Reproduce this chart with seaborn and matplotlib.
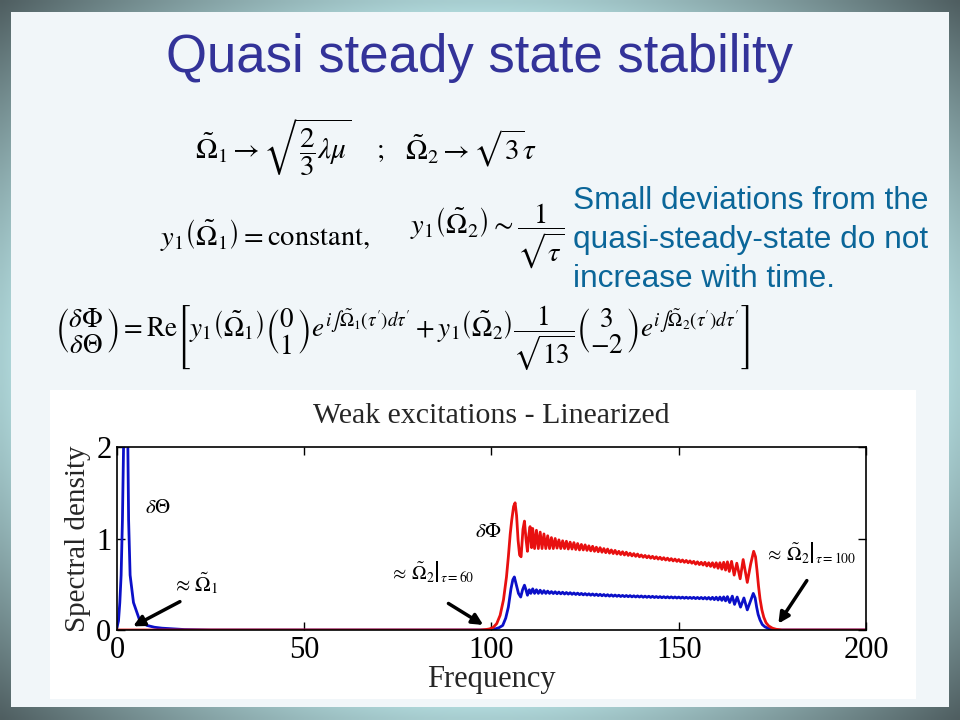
import numpy as np
import pandas as pd
import matplotlib
matplotlib.use("Agg")
import matplotlib.pyplot as plt
import seaborn as sns
from matplotlib.patches import Rectangle

# ---------------- data ----------------
theta_spike_freq = [0, 0.4, 0.75, 1.1, 1.45, 1.75, 2.05, 2.35, 2.65, 2.9, 3.1, 3.5, 4.4, 6.1,
                    8.0, 10.0, 12.0, 15.0, 18.0, 25.0]
theta_spike_val = [0.03, 0.1, 0.3, 0.6, 1.2, 2.0, 3.0, 3.6, 3.0, 2.0, 1.2, 0.6, 0.3, 0.1,
                   0.05, 0.03, 0.02, 0.012, 0.005, 0.0]

theta_rise_freq = [98.0, 100.0, 101.0, 102.0, 103.0, 103.8, 104.5, 105.2, 105.7, 106.1, 106.6,
                   107.2, 107.8, 108.3, 108.8, 109.2, 109.6, 110.1, 110.5]
theta_rise_val = [0.0, 0.005, 0.012, 0.025, 0.05, 0.13, 0.25, 0.45, 0.55, 0.58, 0.5,
                  0.40, 0.36, 0.44, 0.49, 0.44, 0.38, 0.44, 0.40]

phi_rise_freq = [0.0, 97.0, 98.5, 99.5, 100.5, 101.4, 102.3, 103.2, 104.0, 104.5, 105.0, 105.4,
                 105.9, 106.3, 106.7, 107.1, 107.5, 107.9, 108.4, 108.8, 109.2, 109.6, 110.0,
                 110.3, 110.7]
phi_rise_val = [0.0, 0.0, 0.005, 0.012, 0.03, 0.07, 0.16, 0.33, 0.58, 0.8, 1.05, 1.2,
                1.35, 1.39, 1.25, 0.98, 0.82, 0.80, 1.1, 1.19, 1.0, 0.86, 1.05,
                1.13, 0.9]

band_freq = [111.0, 111.5, 112.0, 112.5, 113.0, 113.5, 114.0, 114.5, 115.0, 115.5,
             116.0, 116.5, 117.0, 117.5, 118.0, 118.5, 119.0, 119.5, 120.0, 120.5,
             121.0, 121.5, 122.0, 122.5, 123.0, 123.5, 124.0, 124.5, 125.0, 125.5,
             126.0, 126.5, 127.0, 127.5, 128.0, 128.5, 129.0, 129.5, 130.0, 130.5,
             131.0, 131.5, 132.0, 132.5, 133.0, 133.5, 134.0, 134.5, 135.0, 135.5,
             136.0, 136.5, 137.0, 137.5, 138.0, 138.5, 139.0, 139.5, 140.0, 140.5,
             141.0, 141.5, 142.0, 142.5, 143.0, 143.5, 144.0, 144.5, 145.0, 145.5,
             146.0, 146.5, 147.0, 147.5, 148.0, 148.5, 149.0, 149.5, 150.0, 150.5,
             151.0, 151.5, 152.0, 152.5, 153.0, 153.5, 154.0, 154.5, 155.0, 155.5,
             156.0, 156.5, 157.0, 157.5, 158.0, 158.5, 159.0, 159.5, 160.0, 160.5,
             161.0, 161.5, 162.0, 162.5, 163.0]

phi_band_val = [1.11, 0.89, 1.09, 0.89, 1.07, 0.89, 1.05, 0.89, 1.03, 0.89,
                1.01, 0.89, 1.00, 0.895, 0.985, 0.89, 0.975, 0.89, 0.97, 0.885,
                0.96, 0.885, 0.955, 0.88, 0.945, 0.875, 0.935, 0.875, 0.93, 0.87,
                0.92, 0.865, 0.915, 0.86, 0.905, 0.855, 0.90, 0.85, 0.89, 0.845,
                0.885, 0.84, 0.875, 0.835, 0.87, 0.83, 0.86, 0.825, 0.855, 0.82,
                0.85, 0.815, 0.84, 0.81, 0.835, 0.805, 0.83, 0.80, 0.82, 0.795,
                0.815, 0.79, 0.81, 0.785, 0.805, 0.78, 0.80, 0.775, 0.795, 0.77,
                0.79, 0.765, 0.785, 0.76, 0.78, 0.755, 0.775, 0.75, 0.77, 0.745,
                0.765, 0.74, 0.76, 0.735, 0.755, 0.73, 0.75, 0.72, 0.745, 0.715,
                0.74, 0.71, 0.74, 0.70, 0.735, 0.695, 0.735, 0.685, 0.735, 0.675,
                0.735, 0.665, 0.74, 0.655, 0.745]

theta_band_val = [0.45, 0.40, 0.44, 0.40, 0.435, 0.40, 0.43, 0.40, 0.425, 0.40,
                  0.42, 0.398, 0.418, 0.396, 0.415, 0.395, 0.413, 0.393, 0.41, 0.392,
                  0.408, 0.39, 0.405, 0.388, 0.403, 0.386, 0.40, 0.384, 0.398, 0.382,
                  0.396, 0.38, 0.394, 0.378, 0.392, 0.376, 0.39, 0.374, 0.388, 0.372,
                  0.386, 0.37, 0.384, 0.369, 0.382, 0.368, 0.38, 0.366, 0.378, 0.365,
                  0.377, 0.364, 0.376, 0.362, 0.374, 0.361, 0.373, 0.36, 0.372, 0.358,
                  0.37, 0.357, 0.369, 0.356, 0.368, 0.355, 0.366, 0.354, 0.365, 0.353,
                  0.364, 0.352, 0.363, 0.351, 0.362, 0.35, 0.361, 0.349, 0.36, 0.348,
                  0.359, 0.347, 0.358, 0.346, 0.357, 0.345, 0.357, 0.343, 0.356, 0.342,
                  0.356, 0.34, 0.356, 0.338, 0.356, 0.335, 0.357, 0.332, 0.358, 0.328,
                  0.36, 0.324, 0.362, 0.318, 0.365]

theta_tail_freq = [163.6, 164.3, 164.9, 165.6, 166.5, 167.4, 168.3, 169.2, 169.9, 170.4,
                   170.8, 171.2, 171.7, 172.3, 173.0, 174.0, 175.0, 176.0, 200.0]
theta_tail_val = [0.30, 0.37, 0.28, 0.36, 0.25, 0.35, 0.22, 0.32, 0.40, 0.35,
                  0.25, 0.17, 0.11, 0.06, 0.035, 0.015, 0.005, 0.0, 0.0]

phi_tail_freq = [163.5, 164.1, 164.8, 165.5, 166.4, 167.2, 168.3, 169.2, 170.0, 170.5,
                 170.9, 171.3, 171.7, 172.2, 172.7, 173.3, 174.0, 175.0, 176.0, 177.5, 200.0]
phi_tail_val = [0.64, 0.75, 0.60, 0.73, 0.56, 0.77, 0.52, 0.72, 0.86, 0.80,
                0.65, 0.48, 0.34, 0.22, 0.14, 0.08, 0.045, 0.02, 0.008, 0.0, 0.0]

x_ticks = [0, 50, 100, 150, 200]
y_ticks = [0, 1, 2]

theta_df = pd.DataFrame({
    "Frequency": theta_spike_freq + theta_rise_freq + band_freq + theta_tail_freq,
    "Spectral density": theta_spike_val + theta_rise_val + theta_band_val + theta_tail_val,
})
phi_df = pd.DataFrame({
    "Frequency": phi_rise_freq + band_freq + phi_tail_freq,
    "Spectral density": phi_rise_val + phi_band_val + phi_tail_val,
})

# ---------------- style ----------------
sns.set_style("ticks")
plt.rcParams['font.family'] = ['Liberation Serif', 'DejaVu Serif']
plt.rcParams['mathtext.fontset'] = 'stix'

W, H = 960, 720
fig = plt.figure(figsize=(9.6, 7.2), dpi=100)

# slide background
bg = fig.add_axes([0, 0, 1, 1], zorder=0)
bg.set_xlim(0, W)
bg.set_ylim(H, 0)
bg.axis('off')
gx, gy = np.meshgrid(np.linspace(-0.5, 0.5, 240), np.linspace(-0.5, 0.5, 180))
r = np.sqrt(gx ** 2 + gy ** 2) / 0.7071
t = np.clip((r - 0.68) / 0.32, 0, 1) ** 0.9
light = np.array([0.70, 0.86, 0.87])
dark = np.array([0.31, 0.37, 0.38])
img = light[None, None, :] * (1 - t[..., None]) + dark[None, None, :] * t[..., None]
bg.imshow(img, extent=(0, W, H, 0), aspect='auto', interpolation='bilinear', zorder=0)
bg.add_patch(Rectangle((11, 12), 938, 695, facecolor='#f1f6f9', edgecolor='none', zorder=1))
bg.add_patch(Rectangle((50, 390), 866, 309, facecolor='white', edgecolor='none', zorder=2))

# slide title
bg.text(480, 58, "Quasi steady state stability", ha='center', va='center',
        fontsize=38, color='#333399', family=['Liberation Sans', 'DejaVu Sans'], zorder=3)

# side note
note_lines = ["Small deviations from the", "quasi-steady-state do not", "increase with time."]
for i, line in enumerate(note_lines):
    bg.text(573, 209 + 39 * i, line, ha='left', va='baseline', fontsize=22.8,
            color='#0b6699', family=['Liberation Sans', 'DejaVu Sans'], zorder=3)

# equations
eq_kw = dict(ha='left', va='center', color='black', zorder=3)
bg.text(195, 148, r"$\tilde{\Omega}_1 \rightarrow \sqrt{\dfrac{2}{3}\lambda\mu}$", fontsize=21, **eq_kw)
bg.text(376, 152, r"$;$", fontsize=20, **eq_kw)
bg.text(405, 148, r"$\tilde{\Omega}_2 \rightarrow \sqrt{3}\tau$", fontsize=21, **eq_kw)
bg.text(160, 236, r"$y_1\left(\tilde{\Omega}_1\right) = \mathrm{constant},$", fontsize=20.5, **eq_kw)
bg.text(410, 236, r"$y_1\left(\tilde{\Omega}_2\right) \sim \dfrac{1}{\sqrt{\tau}}$", fontsize=20.5, **eq_kw)
bg.text(55, 337,
        r"$\genfrac{(}{)}{0}{0}{\delta\Phi}{\delta\Theta} = \mathrm{Re}\left[ y_1\left(\tilde{\Omega}_1\right)"
        r"\genfrac{(}{)}{0}{0}{0}{1} e^{i\int\tilde{\Omega}_1(\tau')d\tau'} + "
        r"y_1\left(\tilde{\Omega}_2\right)\dfrac{1}{\sqrt{13}}\genfrac{(}{)}{0}{0}{3}{-2}"
        r" e^{i\int\tilde{\Omega}_2(\tau')d\tau'}\right]$",
        fontsize=19.5, **eq_kw)

# ---------------- chart ----------------
ax = fig.add_axes([117 / W, (H - 630) / H, 749 / W, 183 / H], zorder=2)
ax.set_facecolor('white')
sns.lineplot(data=theta_df, x="Frequency", y="Spectral density", color='#0b10c8',
             linewidth=2, estimator=None, sort=False, ax=ax)
sns.lineplot(data=phi_df, x="Frequency", y="Spectral density", color='#e81010',
             linewidth=2, estimator=None, sort=False, ax=ax)
ax.set_xlim(0, 200)
ax.set_ylim(0, 2)
ax.set_xticks(x_ticks)
ax.set_yticks(y_ticks)
ax.tick_params(direction='in', length=6, width=1, top=True, right=True, labelsize=22, pad=4,
               colors='black')
for s in ax.spines.values():
    s.set_visible(True)
    s.set_linewidth(1.2)
    s.set_color('black')
ax.set_title("Weak excitations - Linearized", fontsize=21.5, pad=17)
ax.set_xlabel("Frequency", fontsize=22, labelpad=0)
ax.set_ylabel("Spectral density", fontsize=21, labelpad=4)

# annotations
lab_kw = dict(ha='left', va='center', fontsize=15, color='black')
ax.text(7.5, 1.33, r"$\delta\Theta$", **lab_kw)
ax.text(14.7, 0.51, r"$\approx\,\tilde{\Omega}_1$", **lab_kw)
ax.text(95.6, 1.07, r"$\delta\Phi$", **lab_kw)
ax.text(72.9, 0.64, r"$\approx\,\left.\tilde{\Omega}_2\right|_{\tau=60}$", ha='left', va='center',
        fontsize=14, color='black')
ax.text(173.0, 0.85, r"$\approx\,\left.\tilde{\Omega}_2\right|_{\tau=100}$", ha='left', va='center',
        fontsize=14, color='black')
arrow_kw = dict(arrowstyle='-|>', color='black', lw=2.5, mutation_scale=16, shrinkA=0, shrinkB=0)
ax.annotate("", xy=(4.3, 0.04), xytext=(16.8, 0.31), arrowprops=arrow_kw)
ax.annotate("", xy=(97.8, 0.055), xytext=(88.5, 0.29), arrowprops=arrow_kw)
ax.annotate("", xy=(176.6, 0.07), xytext=(184.2, 0.54), arrowprops=arrow_kw)

fig.savefig("out.png", dpi=100)
